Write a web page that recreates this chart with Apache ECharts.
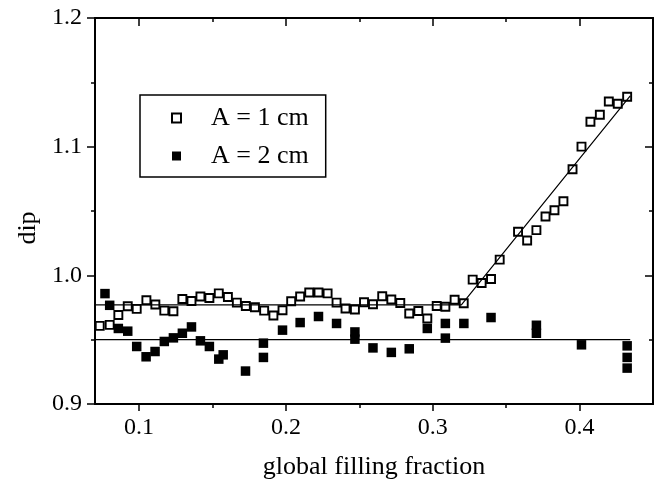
<!DOCTYPE html>
<html>
<head>
<meta charset="utf-8">
<script src="https://cdn.jsdelivr.net/npm/echarts@6/dist/echarts.min.js"></script>
<style>
html,body{margin:0;padding:0;background:#fff;}
#chart{width:660px;height:485px;}
</style>
</head>
<body>
<div id="chart"></div>
<script>
// A = 1 cm (open squares)
const xA1 = [0.0732,0.0800,0.0859,0.0923,0.0984,0.1050,0.1111,0.1172,0.1234,0.1295,0.1357,0.1418,0.1479,0.1543,0.1605,0.1666,0.1727,0.1789,0.1852,0.1915,0.1977,0.2036,0.2097,0.2159,0.2222,0.2284,0.2345,0.2406,0.2470,0.2532,0.2593,0.2656,0.2718,0.2779,0.2840,0.2902,0.2963,0.3027,0.3086,0.3149,0.3211,0.3272,0.3333,0.3397,0.3456,0.3581,0.3643,0.3706,0.3768,0.3829,0.3890,0.3952,0.4013,0.4074,0.4138,0.4199,0.4260,0.4324];
const yA1 = [0.9607,0.9615,0.9692,0.9760,0.9739,0.9806,0.9773,0.9726,0.9721,0.9816,0.9801,0.9835,0.9824,0.9860,0.9832,0.9788,0.9762,0.9752,0.9726,0.9688,0.9729,0.9798,0.9835,0.9866,0.9866,0.9860,0.9788,0.9742,0.9734,0.9791,0.9775,0.9837,0.9812,0.9785,0.9703,0.9723,0.9664,0.9762,0.9756,0.9810,0.9783,0.9967,0.9940,0.9971,1.0122,1.0339,1.0271,1.0351,1.0457,1.0506,1.0576,1.0824,1.1000,1.1194,1.1248,1.1351,1.1333,1.1388];
// A = 2 cm (filled squares)
const xA2 = [0.0768,0.0800,0.0859,0.0923,0.0984,0.1048,0.1109,0.1172,0.1234,0.1295,0.1357,0.1418,0.1479,0.1543,0.1573,0.1725,0.1847,0.1847,0.1977,0.2097,0.2222,0.2345,0.2470,0.2470,0.2593,0.2718,0.2840,0.2963,0.3086,0.3086,0.3212,0.3397,0.3706,0.3706,0.4013,0.4324,0.4324,0.4324];
const yA2 = [0.9858,0.9767,0.9587,0.9566,0.9447,0.9367,0.9408,0.9486,0.9514,0.9550,0.9599,0.9491,0.9447,0.9349,0.9382,0.9256,0.9473,0.9362,0.9574,0.9633,0.9680,0.9626,0.9560,0.9504,0.9436,0.9401,0.9429,0.9587,0.9626,0.9512,0.9626,0.9672,0.9612,0.9550,0.9460,0.9452,0.9362,0.9279];
// fit lines
const fitX = [0.07, 0.3195, 0.4345];
const fitY = [0.977, 0.977, 1.1395];
const baseX = [0.07, 0.4345];
const baseY = [0.95, 0.95];
// ticks
const xMajorTicks = [0.1, 0.2, 0.3, 0.4];
const xMinorTicks = [0.15, 0.25, 0.35];
const seriesNames = ['A = 1 cm', 'A = 2 cm'];

const zip = (xs, ys) => xs.map((x, i) => [x, ys[i]]);
const FONT = 'Liberation Serif';
const black = '#000';

function xAx(pos, ticks, len, inside, showLabel, extra) {
  return Object.assign({
    type: 'value', position: pos, min: 0.07, max: 0.45,
    axisLine: { show: true, onZero: false, lineStyle: { color: black, width: 2 } },
    axisTick: { show: true, customValues: ticks, length: len, inside: inside, lineStyle: { color: black, width: 1.5 } },
    axisLabel: showLabel ? { show: true, customValues: ticks, formatter: v => v.toFixed(1), fontFamily: FONT, fontSize: 24, color: black, margin: 12 } : { show: false },
    splitLine: { show: false }
  }, extra || {});
}
function yAx(pos, inside, showLabel, extra) {
  return Object.assign({
    type: 'value', position: pos, min: 0.9, max: 1.2, interval: 0.1,
    axisLine: { show: true, onZero: false, lineStyle: { color: black, width: 2 } },
    axisTick: { show: true, length: 8, inside: inside, lineStyle: { color: black, width: 1.5 } },
    minorTick: { show: true, splitNumber: 2, length: 4, lineStyle: { color: black, width: 1.5 } },
    axisLabel: showLabel ? { show: true, formatter: v => v.toFixed(1), fontFamily: FONT, fontSize: 24, color: black, margin: 13 } : { show: false },
    splitLine: { show: false }, minorSplitLine: { show: false }
  }, extra || {});
}

const chart = echarts.init(document.getElementById('chart'), null, { renderer: 'canvas' });
chart.setOption({
  animation: false,
  backgroundColor: '#fff',
  grid: { left: 95, right: 7, top: 18, bottom: 81, containLabel: false },
  legend: {
    show: true, orient: 'vertical', left: 140, top: 95,
    data: seriesNames,
    itemWidth: 9, itemHeight: 9, itemGap: 12,
    padding: [10, 17, 8, 31],
    borderColor: black, borderWidth: 1.5,
    textStyle: { fontFamily: FONT, fontSize: 26, color: black, padding: [0, 0, 0, 25] }
  },
  xAxis: [
    xAx('bottom', xMajorTicks, 7, false, true, {
      name: 'global filling fraction', nameLocation: 'middle', nameGap: 50,
      nameTextStyle: { fontFamily: FONT, fontSize: 26, color: black }
    }),
    xAx('bottom', xMinorTicks, 4, false, false),
    xAx('top', xMajorTicks, 8, true, false),
    xAx('top', xMinorTicks, 4, true, false)
  ],
  yAxis: [
    yAx('left', false, true, {
      name: 'dip', nameLocation: 'middle', nameGap: 54,
      nameTextStyle: { fontFamily: FONT, fontSize: 26, color: black, padding: [0, 34, 0, 0] }
    }),
    yAx('right', true, false)
  ],
  series: [
    {
      name: seriesNames[0], type: 'scatter', xAxisIndex: 0, yAxisIndex: 0,
      symbol: 'rect', symbolSize: 8,
      itemStyle: { color: 'rgba(255,255,255,0)', borderColor: black, borderWidth: 1.9, opacity: 1 },
      data: zip(xA1, yA1), z: 3
    },
    {
      name: seriesNames[1], type: 'scatter', xAxisIndex: 0, yAxisIndex: 0,
      symbol: 'rect', symbolSize: 9.5,
      itemStyle: { color: black, opacity: 1 },
      data: zip(xA2, yA2), z: 3
    },
    {
      name: 'fit1', type: 'line', xAxisIndex: 0, yAxisIndex: 0,
      showSymbol: false, symbol: 'none', silent: true,
      lineStyle: { color: black, width: 1.2 },
      data: zip(fitX, fitY), z: 4
    },
    {
      name: 'fit2', type: 'line', xAxisIndex: 0, yAxisIndex: 0,
      showSymbol: false, symbol: 'none', silent: true,
      lineStyle: { color: black, width: 1.2 },
      data: zip(baseX, baseY), z: 4
    }
  ]
});
</script>
</body>
</html>
